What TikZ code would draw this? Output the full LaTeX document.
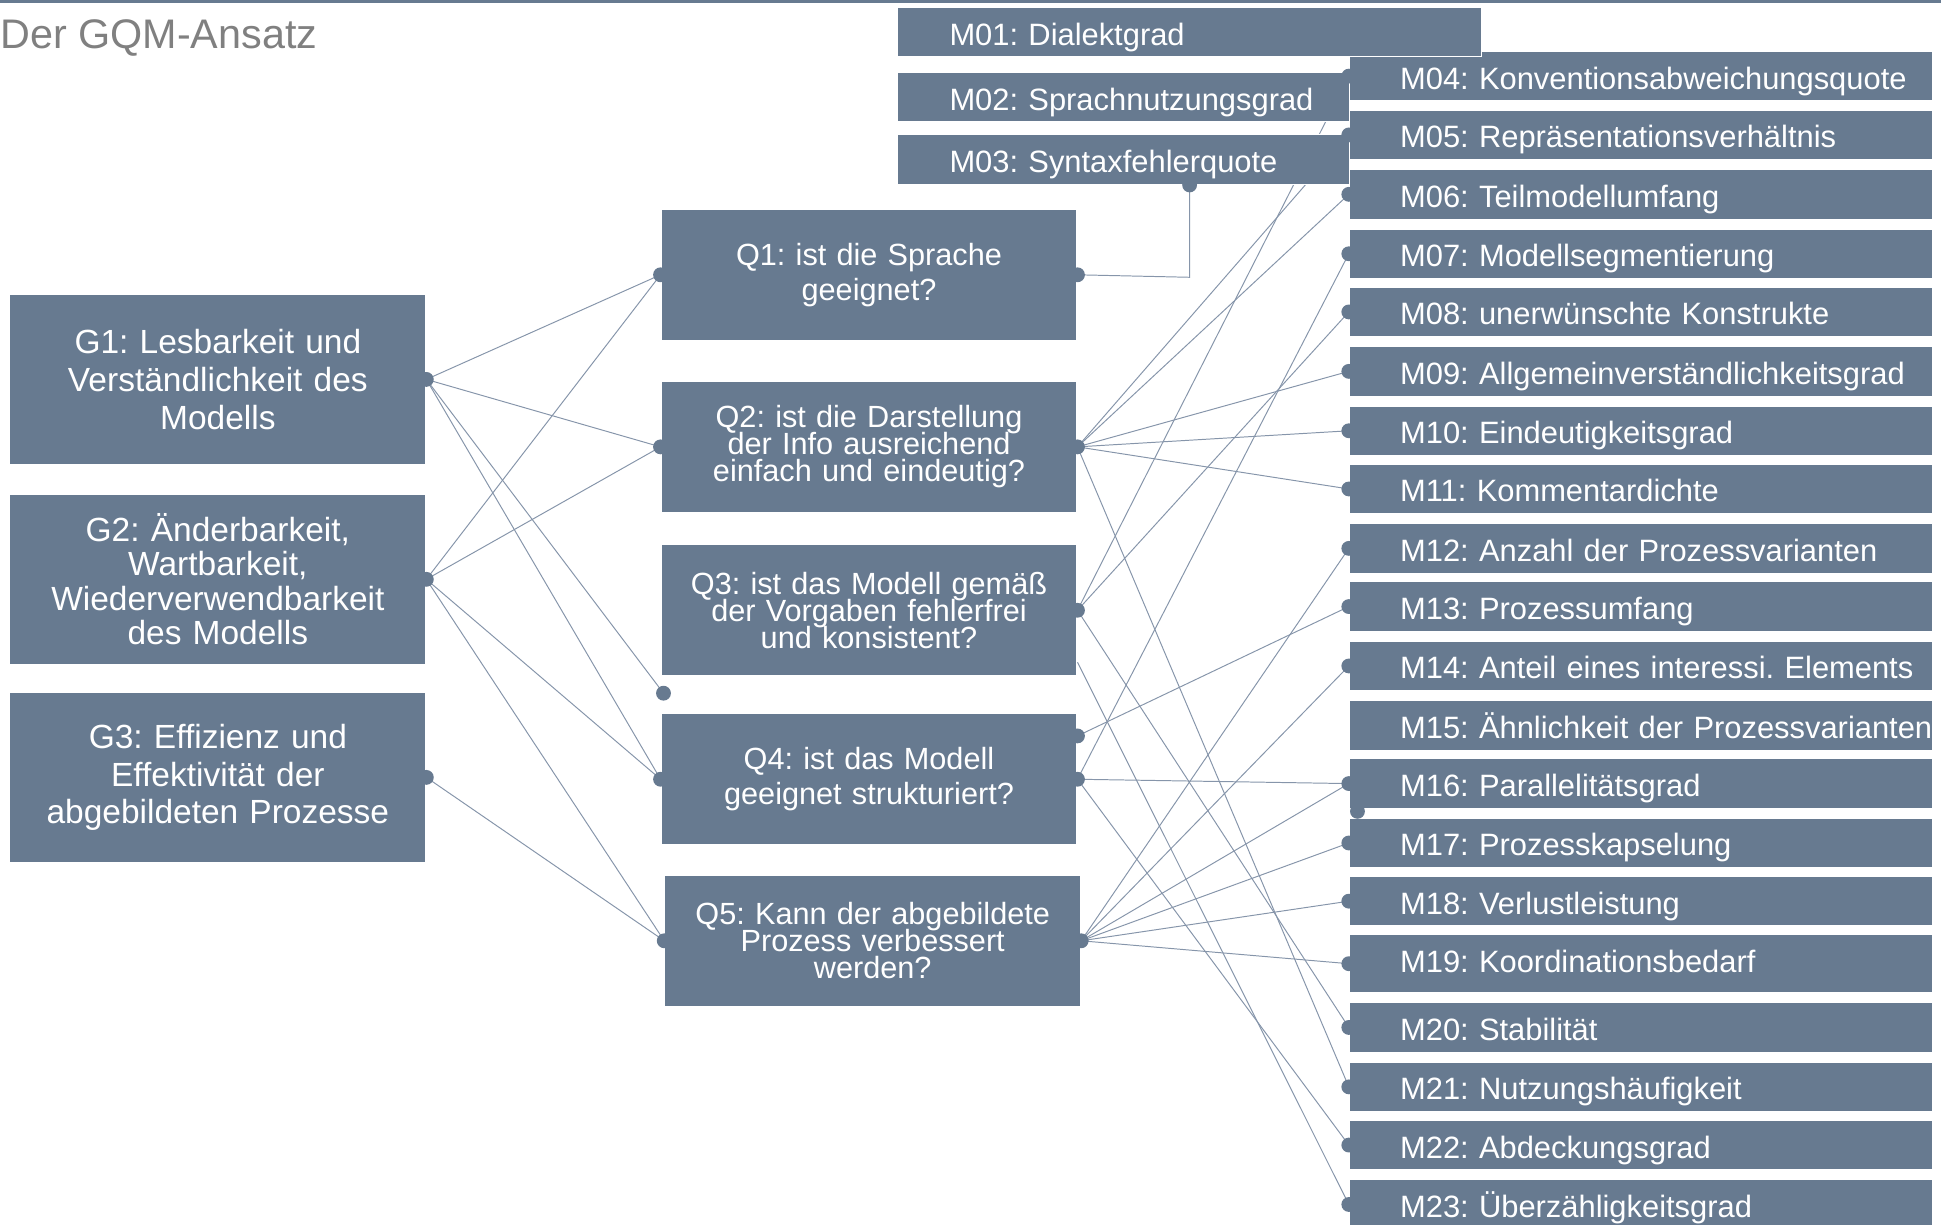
\documentclass[tikz,border=0pt]{standalone}
\usepackage{fontspec}
\setmainfont{Liberation Sans}
\frenchspacing
\usetikzlibrary{calc, backgrounds}
\definecolor{gqmblue}{RGB}{103,122,144}
\definecolor{gqmline}{RGB}{134,149,170}
\definecolor{gqmgray}{RGB}{128,128,128}
\newcommand{\goalfont}{\fontsize{15.4}{17.4}\selectfont}
\newcommand{\quesfont}{\fontsize{14.1}{16}\selectfont}
\newcommand{\tightfont}{\fontsize{14.1}{12.4}\selectfont\lineskiplimit=-20pt\relax}
\newcommand{\metricfont}{\fontsize{14.2}{16}\selectfont}
\tikzset{
  goal/.style={rectangle, fill=gqmblue, draw=white, line width=0.5pt, text=white,
    minimum width=6.72cm, minimum height=2.74cm, text width=6.2cm, inner xsep=0.26cm,
    align=center, font=\goalfont},
  question/.style={rectangle, fill=gqmblue, draw=white, line width=0.5pt, text=white,
    minimum width=6.72cm, minimum height=2.12cm, text width=6.2cm, inner xsep=0.26cm,
    align=center, font=\quesfont},
  tightq/.style={font=\tightfont},
  metric/.style={rectangle, fill=gqmblue, draw=white, line width=0.5pt, text=white,
    minimum height=0.8cm, text width=9.42cm, inner xsep=0pt, align=left,
    text height=0.46cm, text depth=0.04cm, font=\metricfont},
  link/.style={gqmline, line width=0.45pt},
  headline/.style={text=gqmgray, font=\fontsize{19}{23}\selectfont, inner sep=0pt}
}

\begin{document}
\begin{tikzpicture}[x=0.02cm, y=-0.02cm]
  \useasboundingbox (0,0) rectangle (1568,989);

  % Title
  \node[headline, anchor=west] (title) at (0,31) {Der GQM-Ansatz};

  % Goals
  \node[goal] (G1) at (176,306.5) {G1: Lesbarkeit und\\Verständlichkeit des\\Modells};
  \node[goal, font=\fontsize{15.4}{15.8}\selectfont] (G2) at (176,468) {G2: Änderbarkeit,\\Wartbarkeit,\\Wiederverwendbarkeit\\des Modells};
  \node[goal] (G3) at (176,628) {G3: Effizienz und\\Effektivität der\\abgebildeten Prozesse};

  % Questions
  \node[question] (Q1) at (702,222) {Q1: ist die Sprache\\geeignet?};
  \node[question, tightq] (Q2) at (702,361) {Q2: ist die Darstellung\\der Info ausreichend\\einfach und eindeutig?};
  \node[question, tightq] (Q3) at (702,493) {Q3: ist das Modell gemäß\\der Vorgaben fehlerfrei\\und konsistent?};
  \node[question] (Q4) at (702,629.5) {Q4: ist das Modell\\geeignet strukturiert?};
  \node[question, tightq] (Q5) at (705,760) {Q5: Kann der abgebildete\\Prozess verbessert\\werden?};

  % Metrics
  \foreach \n/\y/\lbl in {04/61.5/Konventionsabweichungsquote, 05/109/Repräsentationsverhältnis,
      06/157/Teilmodellumfang, 07/205/Modellsegmentierung, 08/252/unerwünschte Konstrukte,
      09/300/Allgemeinverständlichkeitsgrad, 10/348/Eindeutigkeitsgrad, 11/395/Kommentardichte,
      12/443/Anzahl der Prozessvarianten, 13/490/Prozessumfang, 14/538/Anteil eines interessi. Elements,
      15/586/Ähnlichkeit der Prozessvarianten, 16/633/Parallelitätsgrad, 17/681/Prozesskapselung,
      18/728/Verlustleistung, 20/830/Stabilität, 21/878/Nutzungshäufigkeit,
      22/925/Abdeckungsgrad, 23/973/Überzähligkeitsgrad}
    \node[metric] (M\n) at (1325.5,\y) {\hspace*{0.82cm}\mbox{M\n: \lbl}};
  \node[metric, minimum height=0.94cm, text height=0.4cm, text depth=0.1cm] (M19) at (1325.5,778.5) {\hspace*{0.82cm}\mbox{M19: Koordinationsbedarf}};

  \node[metric, text width=9.44cm] (M01) at (961,26) {\hspace*{0.84cm}\mbox{M01: Dialektgrad}};
  \node[metric, text width=7.3cm] (M02) at (907.5,78.5) {\hspace*{0.84cm}\mbox{M02: Sprachnutzungsgrad}};
  \node[metric, text width=7.3cm] (M03) at (907.5,129) {\hspace*{0.84cm}\mbox{M03: Syntaxfehlerquote}};

  % Helper points
  \coordinate (loose) at (536,560);
  \coordinate (kink) at (961,224);
  \coordinate (m03foot) at (kink |- M03.south);
  \coordinate (Q4up) at ($(Q4.east)+(0,-35)$);
  \coordinate (Q3low) at ($(Q3.east)+(0,42)$);
  \coordinate (m16foot) at ($(M16.south west)+(7,2)$);

  \begin{scope}[on background layer]
    \draw[gqmblue, line width=1.2pt] (0,1) -- (1568,1);
    % goals to questions
    \foreach \q in {Q1,Q2,Q4} \draw[link] (G1.east) -- (\q.west);
    \draw[link] (G1.east) -- (loose);
    \foreach \q in {Q1,Q2,Q4,Q5} \draw[link] (G2.east) -- (\q.west);
    \draw[link] (G3.east) -- (Q5.west);
    % questions to metrics
    \draw[link] (Q1.east) -- (kink) -- (m03foot);
    \foreach \m in {M05,M06,M09,M10,M11,M21} \draw[link] (Q2.east) -- (\m.west);
    \foreach \m in {M04,M08,M20} \draw[link] (Q3.east) -- (\m.west);
    \draw[link] (Q3low) -- (M23.west);
    \draw[link] (Q4up) -- (M13.west);
    \foreach \m in {M07,M16,M22} \draw[link] (Q4.east) -- (\m.west);
    \foreach \m in {M12,M14,M16,M17,M18,M19} \draw[link] (Q5.east) -- (\m.west);
  \end{scope}

  % Dots
  \foreach \p in {G1.east, G2.east, G3.east, Q1.west, Q2.west, Q4.west, Q5.west, loose,
      Q1.east, Q2.east, Q3.east, Q4.east, Q4up, Q5.east, m03foot, m16foot}
    \fill[gqmblue] (\p) circle (0.12cm);
  \foreach \m in {04,05,06,07,08,09,10,11,12,13,14,16,17,18,19,20,21,22,23}
    \fill[gqmblue] (M\m.west) circle (0.12cm);
\end{tikzpicture}
\end{document}
